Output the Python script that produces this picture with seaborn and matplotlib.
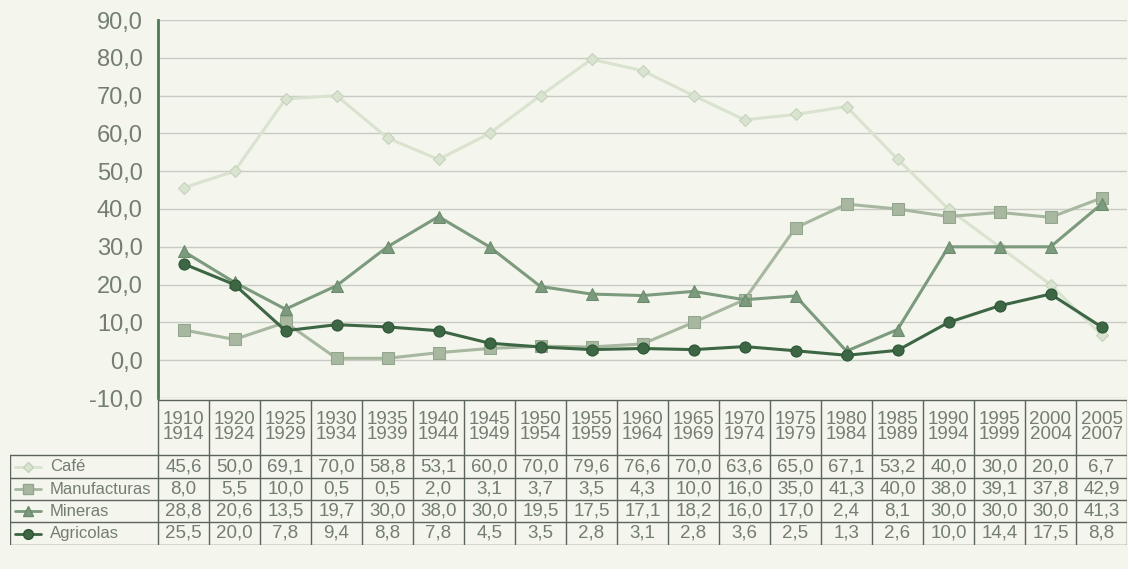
import matplotlib
matplotlib.use("Agg")
import matplotlib.pyplot as plt
import numpy as np
import pandas as pd
import seaborn as sns

periodos = ["1910\n1914", "1920\n1924", "1925\n1929", "1930\n1934", "1935\n1939",
            "1940\n1944", "1945\n1949", "1950\n1954", "1955\n1959", "1960\n1964",
            "1965\n1969", "1970\n1974", "1975\n1979", "1980\n1984", "1985\n1989",
            "1990\n1994", "1995\n1999", "2000\n2004", "2005\n2007"]
cafe = [45.6, 50.0, 69.1, 70.0, 58.8, 53.1, 60.0, 70.0, 79.6, 76.6, 70.0, 63.6,
        65.0, 67.1, 53.2, 40.0, 30.0, 20.0, 6.7]
manufacturas = [8.0, 5.5, 10.0, 0.5, 0.5, 2.0, 3.1, 3.7, 3.5, 4.3, 10.0, 16.0,
                35.0, 41.3, 40.0, 38.0, 39.1, 37.8, 42.9]
mineras = [28.8, 20.6, 13.5, 19.7, 30.0, 38.0, 30.0, 19.5, 17.5, 17.1, 18.2, 16.0,
           17.0, 2.4, 8.1, 30.0, 30.0, 30.0, 41.3]
agricolas = [25.5, 20.0, 7.8, 9.4, 8.8, 7.8, 4.5, 3.5, 2.8, 3.1, 2.8, 3.6,
             2.5, 1.3, 2.6, 10.0, 14.4, 17.5, 8.8]
series = ["Café", "Manufacturas", "Mineras", "Agricolas"]
y_ticks = [-10, 0, 10, 20, 30, 40, 50, 60, 70, 80, 90]

colores = {"Café": "#d9e3cf", "Manufacturas": "#a7b7a0",
           "Mineras": "#7c9a7d", "Agricolas": "#3c6644"}
bordes = {"Café": "#c4d1bb", "Manufacturas": "#93a58d",
          "Mineras": "#6a8a6b", "Agricolas": "#2c5534"}
marcadores = {"Café": "D", "Manufacturas": "s", "Mineras": "^", "Agricolas": "o"}

sns.set_style("white")
plt.rcParams["font.family"] = ["Liberation Sans Narrow", "Liberation Sans", "DejaVu Sans"]

fondo = "#f4f5ed"
texto = "#737d72"
W, H = 1128, 569
fig = plt.figure(figsize=(W / 100, H / 100), dpi=100, facecolor=fondo)

x0, x1 = 158, 1127
ax = fig.add_axes([x0 / W, (H - 398) / H, (x1 - x0) / W, (398 - 20) / H])
ax.set_facecolor(fondo)

df = pd.DataFrame({
    "pos": list(range(len(periodos))) * 4,
    "valor": cafe + manufacturas + mineras + agricolas,
    "serie": sum([[s] * len(periodos) for s in series], []),
})

for s in series:
    sub = df[df["serie"] == s]
    sns.lineplot(data=sub, x="pos", y="valor", ax=ax, color=colores[s],
                 marker=marcadores[s], markersize=8 if s != "Café" else 6.5,
                 markeredgecolor=bordes[s], markerfacecolor=colores[s],
                 linewidth=2.2, legend=False)

ax.set_xlim(-0.5, len(periodos) - 0.5)
ax.set_ylim(-10, 90)
ax.set_yticks(y_ticks)
ax.set_yticklabels([f"{v:.1f}".replace(".", ",") for v in y_ticks],
                   fontsize=17, color=texto)
ax.set_xticks([])
ax.set_xlabel("")
ax.set_ylabel("")
ax.grid(axis="y", color="#c9ccc4", linewidth=1)
ax.tick_params(axis="y", length=8, width=1, color="#6f7a6f", direction="out", pad=3)
for side in ["top", "right", "bottom"]:
    ax.spines[side].set_visible(False)
ax.spines["left"].set_color("#4f7a55")
ax.spines["left"].set_linewidth(2)

# tabla de datos
n = len(periodos)
cw = (x1 - x0) / n
lab_left = 10
tx = fig.add_axes([lab_left / W, (H - 545) / H, (x1 - lab_left) / W, (545 - 398) / H])
tx.set_facecolor("none")
lab_x = -0.5 - (x0 - lab_left) / cw
tx.set_xlim(lab_x, n - 0.5)
tx.set_ylim(545, 398)
tx.axis("off")

lc = "#5b655b"
row_y = [455, 478, 500, 522, 545]
tx.plot([-0.5, n - 0.5], [400, 400], color=lc, lw=1)
for y in row_y:
    tx.plot([lab_x, n - 0.5], [y, y], color=lc, lw=1)
for i in range(n + 1):
    tx.plot([i - 0.5, i - 0.5], [400, 545], color=lc, lw=1)
tx.plot([lab_x, lab_x], [455, 545], color=lc, lw=1)

for i, p in enumerate(periodos):
    tx.text(i, 427, p, ha="center", va="center", fontsize=13.5, color=texto,
            linespacing=0.9)

valores = [cafe, manufacturas, mineras, agricolas]
for r, (s, vals) in enumerate(zip(series, valores)):
    yc = (row_y[r] + row_y[r + 1]) / 2
    for i, v in enumerate(vals):
        tx.text(i, yc, f"{v:.1f}".replace(".", ","), ha="center", va="center",
                fontsize=13.5, color=texto)
    mx = lab_x + 0.35
    tx.plot([lab_x + 0.1, lab_x + 0.6], [yc, yc], color=colores[s], lw=2)
    tx.plot([mx], [yc], marker=marcadores[s], color=colores[s],
            markeredgecolor=bordes[s], markersize=7 if s != "Café" else 5.5)
    tx.text(lab_x + 0.78, yc, s, ha="left", va="center", fontsize=12, color=texto)

fig.savefig("out.png", dpi=100, facecolor=fondo)
